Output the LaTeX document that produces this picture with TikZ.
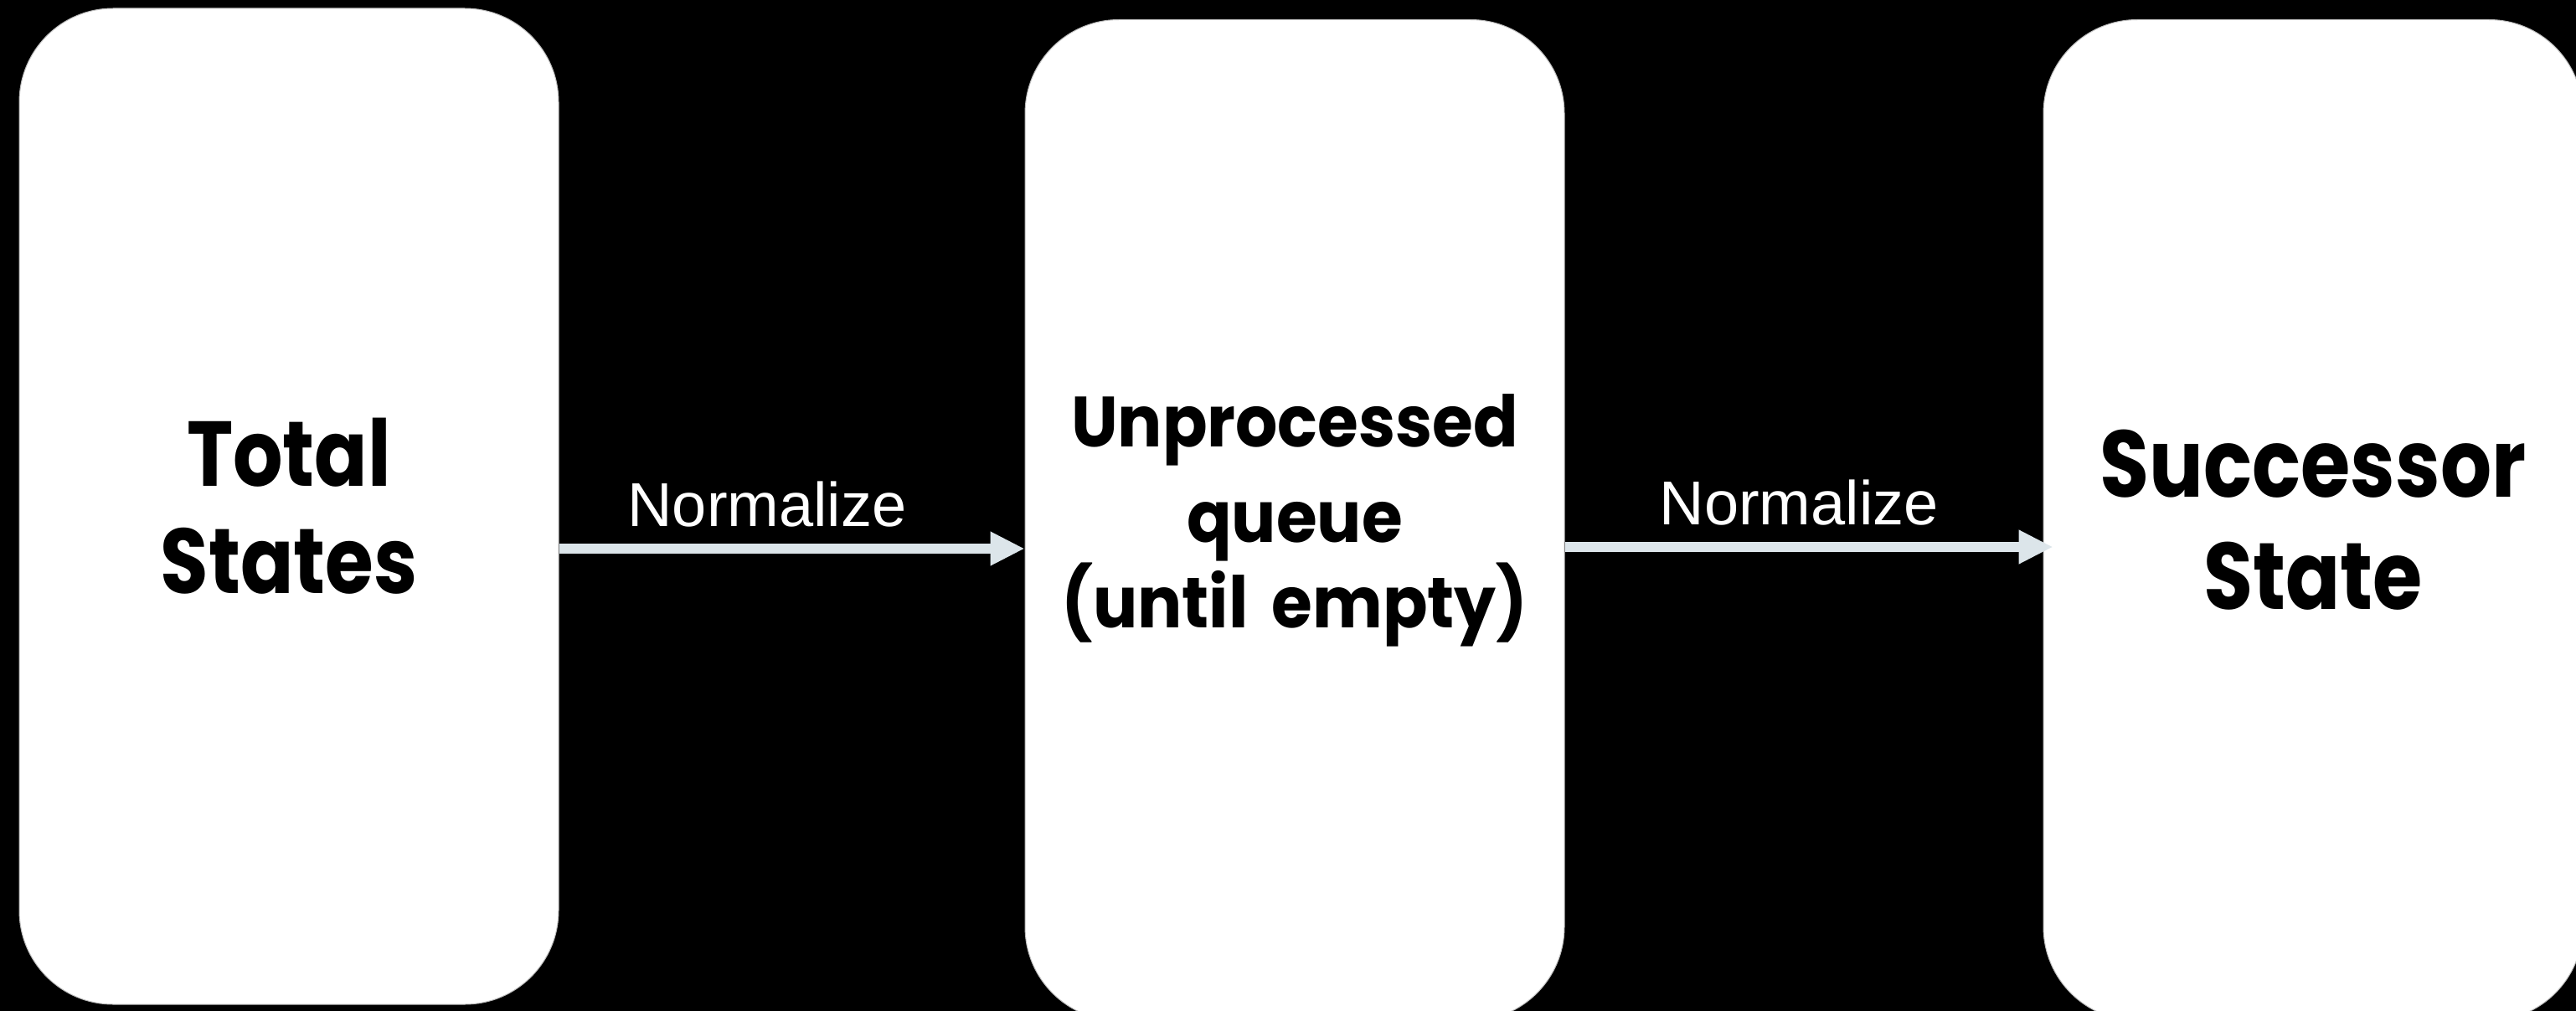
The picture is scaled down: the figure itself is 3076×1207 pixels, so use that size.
\documentclass[tikz,border=0pt]{standalone}
\usepackage{fontspec}
\setmainfont{Liberation Sans}
\newfontfamily\gothicwide{Poppins}[FakeStretch=0.85]
\newfontfamily\gothicnarrow{Poppins}[FakeStretch=0.93]
\usetikzlibrary{arrows.meta,calc}
\definecolor{arrowcol}{HTML}{DCE5EA}
\definecolor{edgecol}{HTML}{BBBBBB}
\tikzset{
  statebox/.style={fill=white, draw=edgecol, line width=1pt, rounded corners=112pt,
    minimum width=644pt, text width=640pt, inner sep=0pt, align=center, text=black},
  leftbox/.style={font=\gothicwide\bfseries\fontsize{110}{128}\selectfont},
  midbox/.style={font=\gothicnarrow\bfseries\fontsize{85}{102}\selectfont},
  rightbox/.style={font=\gothicwide\bfseries\fontsize{113}{134}\selectfont},
  flow/.style={draw=arrowcol, line width=12pt, -{Triangle[length=41pt,width=38pt]}},
  flowlabel/.style={text=white, font=\fontsize{74}{89}\selectfont, anchor=base, inner sep=0pt}
}
\begin{document}
\begin{tikzpicture}[x=1pt,y=-1pt]
\fill[black] (0,0) rectangle (3076,1207);
\useasboundingbox (0,0) rectangle (3076,1207);
\clip (0,0) rectangle (3076,1207);
\node[statebox, leftbox, minimum height=1189pt] (b1) at (345,604.5) {Total\\States};
\node[statebox, midbox, minimum height=1195pt] (b2) at (1546,621) {\vspace*{12pt}Unprocessed\\queue\\(until empty)};
\node[statebox, rightbox, minimum height=1195pt] (b3) at (2762,621) {Successor\\State};
\draw[flow] (b1.east |- 0,655) -- node[flowlabel, pos=0.447, yshift=27pt] {Normalize} (b2.west |- 0,655);
\draw[flow, shorten >=-12pt] (b2.east |- 0,653) -- node[flowlabel, pos=0.49, yshift=27pt] {Normalize} (b3.west |- 0,653);
\end{tikzpicture}
\end{document}
